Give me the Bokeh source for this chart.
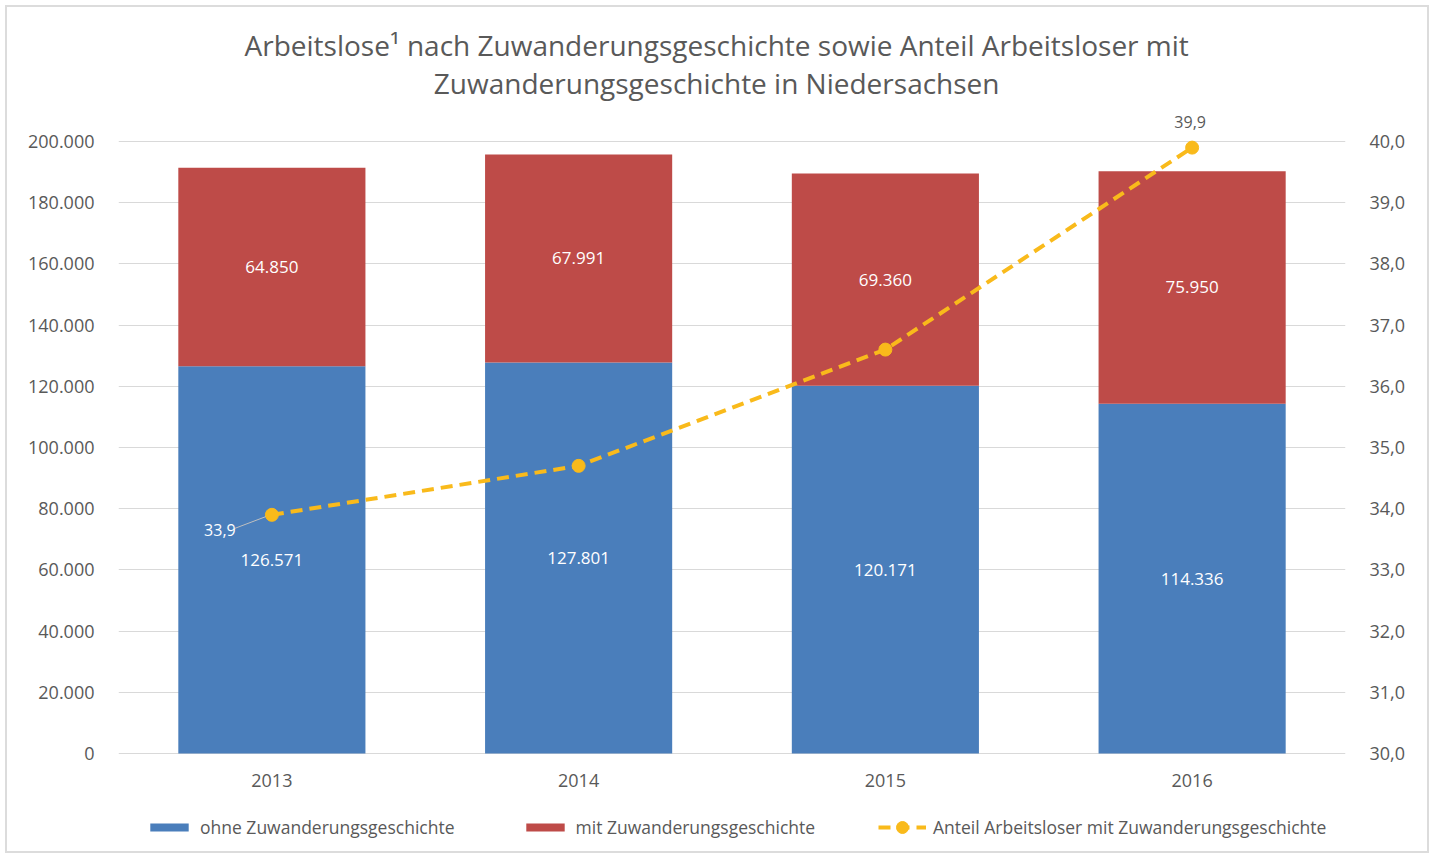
from bokeh.plotting import figure
from bokeh.models import (ColumnDataSource, Range1d, LinearAxis, FixedTicker,
                          CustomJSTickFormatter, LabelSet, Label, Legend, LegendItem)
from bokeh.core.properties import value
from bokeh.embed import file_html
from bokeh.resources import INLINE

years = ["2013", "2014", "2015", "2016"]
ohne = [126571, 127801, 120171, 114336]
mit = [64850, 67991, 69360, 75950]
anteil = [33.9, 34.7, 36.6, 39.9]
ohne_labels = ["126.571", "127.801", "120.171", "114.336"]
mit_labels = ["64.850", "67.991", "69.360", "75.950"]
anteil_labels = ["33,9", "", "", "39,9"]
left_ticks = [0, 20000, 40000, 60000, 80000, 100000, 120000, 140000, 160000, 180000, 200000]
right_ticks = [30, 31, 32, 33, 34, 35, 36, 37, 38, 39, 40]
title_lines = ["Arbeitslose\u00b9 nach Zuwanderungsgeschichte sowie Anteil Arbeitsloser mit",
               "Zuwanderungsgeschichte in Niedersachsen"]

FONT = "Open Sans"
TXT = "#595959"
BLUE = "#4A7EBB"
RED = "#BE4B48"
GOLD = "#F9BA1B"

# layout: axis scale spans 612 px; head room above (titles) and below (year labels, legend)
AXIS_H = 612
HEAD = 134
FOOT = 98
FRAME_H = AXIS_H + HEAD + FOOT


def ext(lo, hi):
    span = (hi - lo) / AXIS_H
    return Range1d(lo - span * FOOT, hi + span * HEAD)


src = ColumnDataSource(dict(
    years=years, ohne=ohne, mit=mit, anteil=anteil,
    ohne_c=[o / 2 for o in ohne],
    mit_c=[o + m / 2 for o, m in zip(ohne, mit)],
    ohne_l=ohne_labels, mit_l=mit_labels,
    base=[0] * len(years),
))

p = figure(x_range=years, y_range=ext(left_ticks[0], left_ticks[-1]),
           frame_width=1227, frame_height=FRAME_H,
           output_backend="svg", toolbar_location=None,
           min_border_left=111, min_border_right=82, min_border_top=0, min_border_bottom=0)
p.extra_y_ranges = {"pct": ext(right_ticks[0], right_ticks[-1])}
p.outline_line_color = None
p.background_fill_color = "white"
p.border_fill_color = "white"
p.styles = {"outline": "2px solid #dcdcdc", "margin-left": "7px", "margin-top": "7px"}

bars = p.vbar_stack(["ohne", "mit"], x="years", width=0.61, source=src,
                    color=[BLUE, RED], line_color=None)

line_r = p.line(x=years, y=anteil, y_range_name="pct", line_color=GOLD, line_width=4,
                line_dash="12 7")
circ_r = p.scatter(x=years, y=anteil, y_range_name="pct", size=13, fill_color=GOLD,
                   line_color=GOLD)

# leader line for first label
p.segment(x0=[(years[0], -0.12)], y0=[anteil[0] - 0.22], x1=[(years[0], -0.02)],
          y1=[anteil[0] - 0.03], y_range_name="pct", line_color="#BFBFBF", line_width=1)

# bar value labels
for col, lab in (("ohne_c", "ohne_l"), ("mit_c", "mit_l")):
    p.add_layout(LabelSet(x="years", y=col, text=lab, source=src, text_color="white",
                          text_font=value(FONT), text_font_size="17px",
                          text_align="center", text_baseline="middle"))

# category labels (x axis)
p.add_layout(LabelSet(x="years", y="base", text="years", source=src, y_offset=-27,
                      text_color=TXT, text_font=value(FONT), text_font_size="18px",
                      text_align="center", text_baseline="middle"))

p.add_layout(Label(x=0.5, y=anteil[0], y_range_name="pct", text=anteil_labels[0],
                   x_offset=-52, y_offset=-15, text_color="white", text_font=FONT,
                   text_font_size="16px", text_align="center", text_baseline="middle"))
p.add_layout(Label(x=3.5, y=anteil[3], y_range_name="pct", text=anteil_labels[3],
                   x_offset=-2, y_offset=26, text_color=TXT, text_font=FONT,
                   text_font_size="16px", text_align="center", text_baseline="middle"))
p.add_layout(Label(x=4.13, y=right_ticks[-1], y_range_name="pct", text="%",
                   y_offset=40, text_color=TXT, text_font=FONT,
                   text_font_size="16px", text_align="center", text_baseline="middle"))

# title (two centred lines)
for i, line in enumerate(title_lines):
    p.add_layout(Label(x=1.95, y=right_ticks[-1], y_range_name="pct", text=line,
                       y_offset=97 - 38 * i, text_color=TXT, text_font=FONT,
                       text_font_size="28px", text_align="center", text_baseline="middle"))

# axes
p.xaxis.visible = False
p.yaxis.ticker = FixedTicker(ticks=left_ticks)
p.yaxis.formatter = CustomJSTickFormatter(
    code="return Math.round(tick).toString().replace(/\\B(?=(\\d{3})+(?!\\d))/g, '.');")
ax_r = LinearAxis(y_range_name="pct", ticker=FixedTicker(ticks=right_ticks),
                  formatter=CustomJSTickFormatter(code="return tick.toFixed(1).replace('.', ',');"))
p.add_layout(ax_r, "right")

for ax in (p.yaxis[0], ax_r):
    ax.axis_line_color = None
    ax.major_tick_line_color = None
    ax.minor_tick_line_color = None
    ax.major_label_standoff = 18
    ax.major_label_text_font = FONT
    ax.major_label_text_font_size = "18px"
    ax.major_label_text_color = TXT

p.xgrid.grid_line_color = None
p.ygrid.grid_line_color = "#D9D9D9"
p.ygrid.grid_line_width = 1

leg_style = dict(orientation="horizontal", glyph_width=48, label_standoff=7, spacing=66,
                 label_text_font=FONT, label_text_font_size="17.5px", label_text_color=TXT,
                 border_line_color=None, background_fill_alpha=0, margin=0, padding=0)
legend_bars = Legend(items=[
    LegendItem(label="ohne Zuwanderungsgeschichte", renderers=[bars[0]]),
    LegendItem(label="mit Zuwanderungsgeschichte", renderers=[bars[1]]),
], location=(27, 12), glyph_height=10, **leg_style)
legend_line = Legend(items=[
    LegendItem(label="Anteil Arbeitsloser mit Zuwanderungsgeschichte", renderers=[line_r, circ_r]),
], location=(760, 9), glyph_height=30, **leg_style)
p.add_layout(legend_bars)
p.add_layout(legend_line)

open("out.html", "w").write(file_html(p, INLINE))
